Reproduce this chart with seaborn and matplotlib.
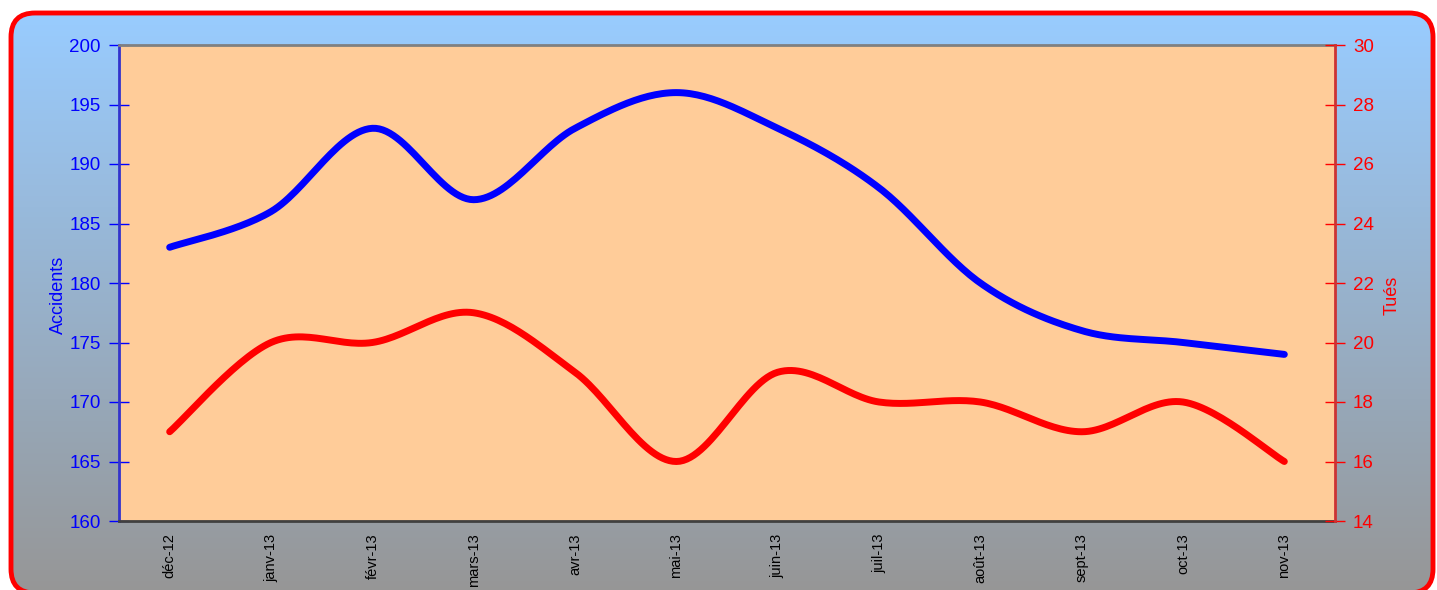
import numpy as np
import pandas as pd
import matplotlib
matplotlib.use("Agg")
import matplotlib.pyplot as plt
import seaborn as sns
from matplotlib.patches import FancyBboxPatch

# ============================
# DATOS
# ============================
mois = ["déc-12", "janv-13", "févr-13", "mars-13", "avr-13", "mai-13",
        "juin-13", "juil-13", "août-13", "sept-13", "oct-13", "nov-13"]
accidents = [183, 186, 193, 187, 193, 196, 193, 188, 180, 176, 175, 174]
tues = [17, 20, 20, 21, 19, 16, 19, 18, 18, 17, 18, 16]


# courbe lissée (Catmull-Rom, comme le lissage Excel)
def smooth(y, n=30):
    y = np.asarray(y, dtype=float)
    x = np.arange(len(y), dtype=float)
    px = np.concatenate([[x[0]], x, [x[-1]]])
    py = np.concatenate([[y[0]], y, [y[-1]]])
    xs, ys = [], []
    t = np.linspace(0, 1, n)
    for i in range(1, len(px) - 2):
        p0, p1, p2, p3 = px[i-1], px[i], px[i+1], px[i+2]
        q0, q1, q2, q3 = py[i-1], py[i], py[i+1], py[i+2]
        c1x, c2x = p1 + (p2 - p0) / 6, p2 - (p3 - p1) / 6
        c1y, c2y = q1 + (q2 - q0) / 6, q2 - (q3 - q1) / 6
        bx = (1-t)**3*p1 + 3*(1-t)**2*t*c1x + 3*(1-t)*t**2*c2x + t**3*p2
        by = (1-t)**3*q1 + 3*(1-t)**2*t*c1y + 3*(1-t)*t**2*c2y + t**3*q2
        xs.append(bx)
        ys.append(by)
    return np.concatenate(xs), np.concatenate(ys)


sns.set_style("white")
plt.rcParams['font.family'] = ['Liberation Sans', 'DejaVu Sans']

fig = plt.figure(figsize=(14.37, 5.90), dpi=100)
W, H = 1437, 590

# fond dégradé avec bord rouge arrondi (coordonnées en pixels, y vers le haut)
bg = fig.add_axes([0, 0, 1, 1])
bg.set_xlim(0, W)
bg.set_ylim(0, H)
bg.axis("off")
top = np.array([0x99, 0xCC, 0xFF]) / 255
bot = np.array([0x96, 0x96, 0x96]) / 255
g = np.linspace(0, 1, 256)[:, None]
grad = (top[None, :] * (1 - g) + bot[None, :] * g)[:, None, :]
x0, y0, x1, y1 = 11, -3, W - 4, H - 13
im = bg.imshow(grad, extent=[x0, x1, y0, y1], origin="upper", aspect="auto", zorder=0)
box = FancyBboxPatch((x0, y0), x1 - x0, y1 - y0, boxstyle="round,pad=0,rounding_size=24",
                     facecolor="none", edgecolor="red", linewidth=3.5, zorder=2)
bg.add_patch(box)
im.set_clip_path(box)

# zone de tracé
ax = fig.add_axes([119 / W, 1 - 521 / H, (1335 - 119) / W, (521 - 45) / H])
ax.set_facecolor("#FFCC99")
x = np.arange(len(mois))

sx, sy = smooth(accidents)
df_acc = pd.DataFrame({"x": sx, "y": sy})
sns.lineplot(data=df_acc, x="x", y="y", ax=ax, color="#0000FF", linewidth=5,
             sort=False, estimator=None, solid_capstyle="round")
ax.set_xlim(-0.5, len(mois) - 0.5)
ax.set_ylim(160, 200)
ax.set_yticks(np.arange(160, 201, 5))
ax.set_xticks(np.arange(-0.5, len(mois), 1), minor=False)
ax.set_xticklabels([])
ax.set_xticks(x, minor=True)
ax.set_xticklabels(mois, minor=True, rotation=90, fontsize=10.5, color="black")
ax.tick_params(axis="x", which="major", direction="inout", length=10, width=1, color="black")
ax.tick_params(axis="x", which="minor", length=0, pad=9)
ax.tick_params(axis="y", direction="inout", length=14, width=1, color="#0000FF",
               labelcolor="#0000FF", labelsize=13.5, pad=6)
ax.set_xlabel("")
ax.set_ylabel("Accidents", color="#0000FF", fontsize=13)
ax.yaxis.set_label_coords(-0.043, 0.475)
for s in ["top", "bottom", "left", "right"]:
    ax.spines[s].set_visible(True)
ax.spines["top"].set_color("#808080")
ax.spines["bottom"].set_color("#404040")
ax.spines["left"].set_color("#3333CC")
ax.spines["right"].set_visible(False)
for s in ax.spines.values():
    s.set_linewidth(2)

ax2 = ax.twinx()
tx, ty = smooth(tues)
df_tues = pd.DataFrame({"x": tx, "y": ty})
sns.lineplot(data=df_tues, x="x", y="y", ax=ax2, color="#FF0000", linewidth=5,
             sort=False, estimator=None, solid_capstyle="round")
ax2.set_ylim(14, 30)
ax2.set_yticks(np.arange(14, 31, 2))
ax2.tick_params(axis="y", direction="inout", length=14, width=1, color="#FF0000",
                labelcolor="#FF0000", labelsize=13.5, pad=6)
ax2.set_ylabel("Tués", color="#FF0000", fontsize=13)
ax2.yaxis.set_label_coords(1.040, 0.475)
for s in ["top", "bottom", "left"]:
    ax2.spines[s].set_visible(False)
ax2.spines["right"].set_color("#CC3333")
ax2.spines["right"].set_linewidth(2)
ax2.set_xlim(-0.5, len(mois) - 0.5)

fig.savefig("out.png", dpi=100)
